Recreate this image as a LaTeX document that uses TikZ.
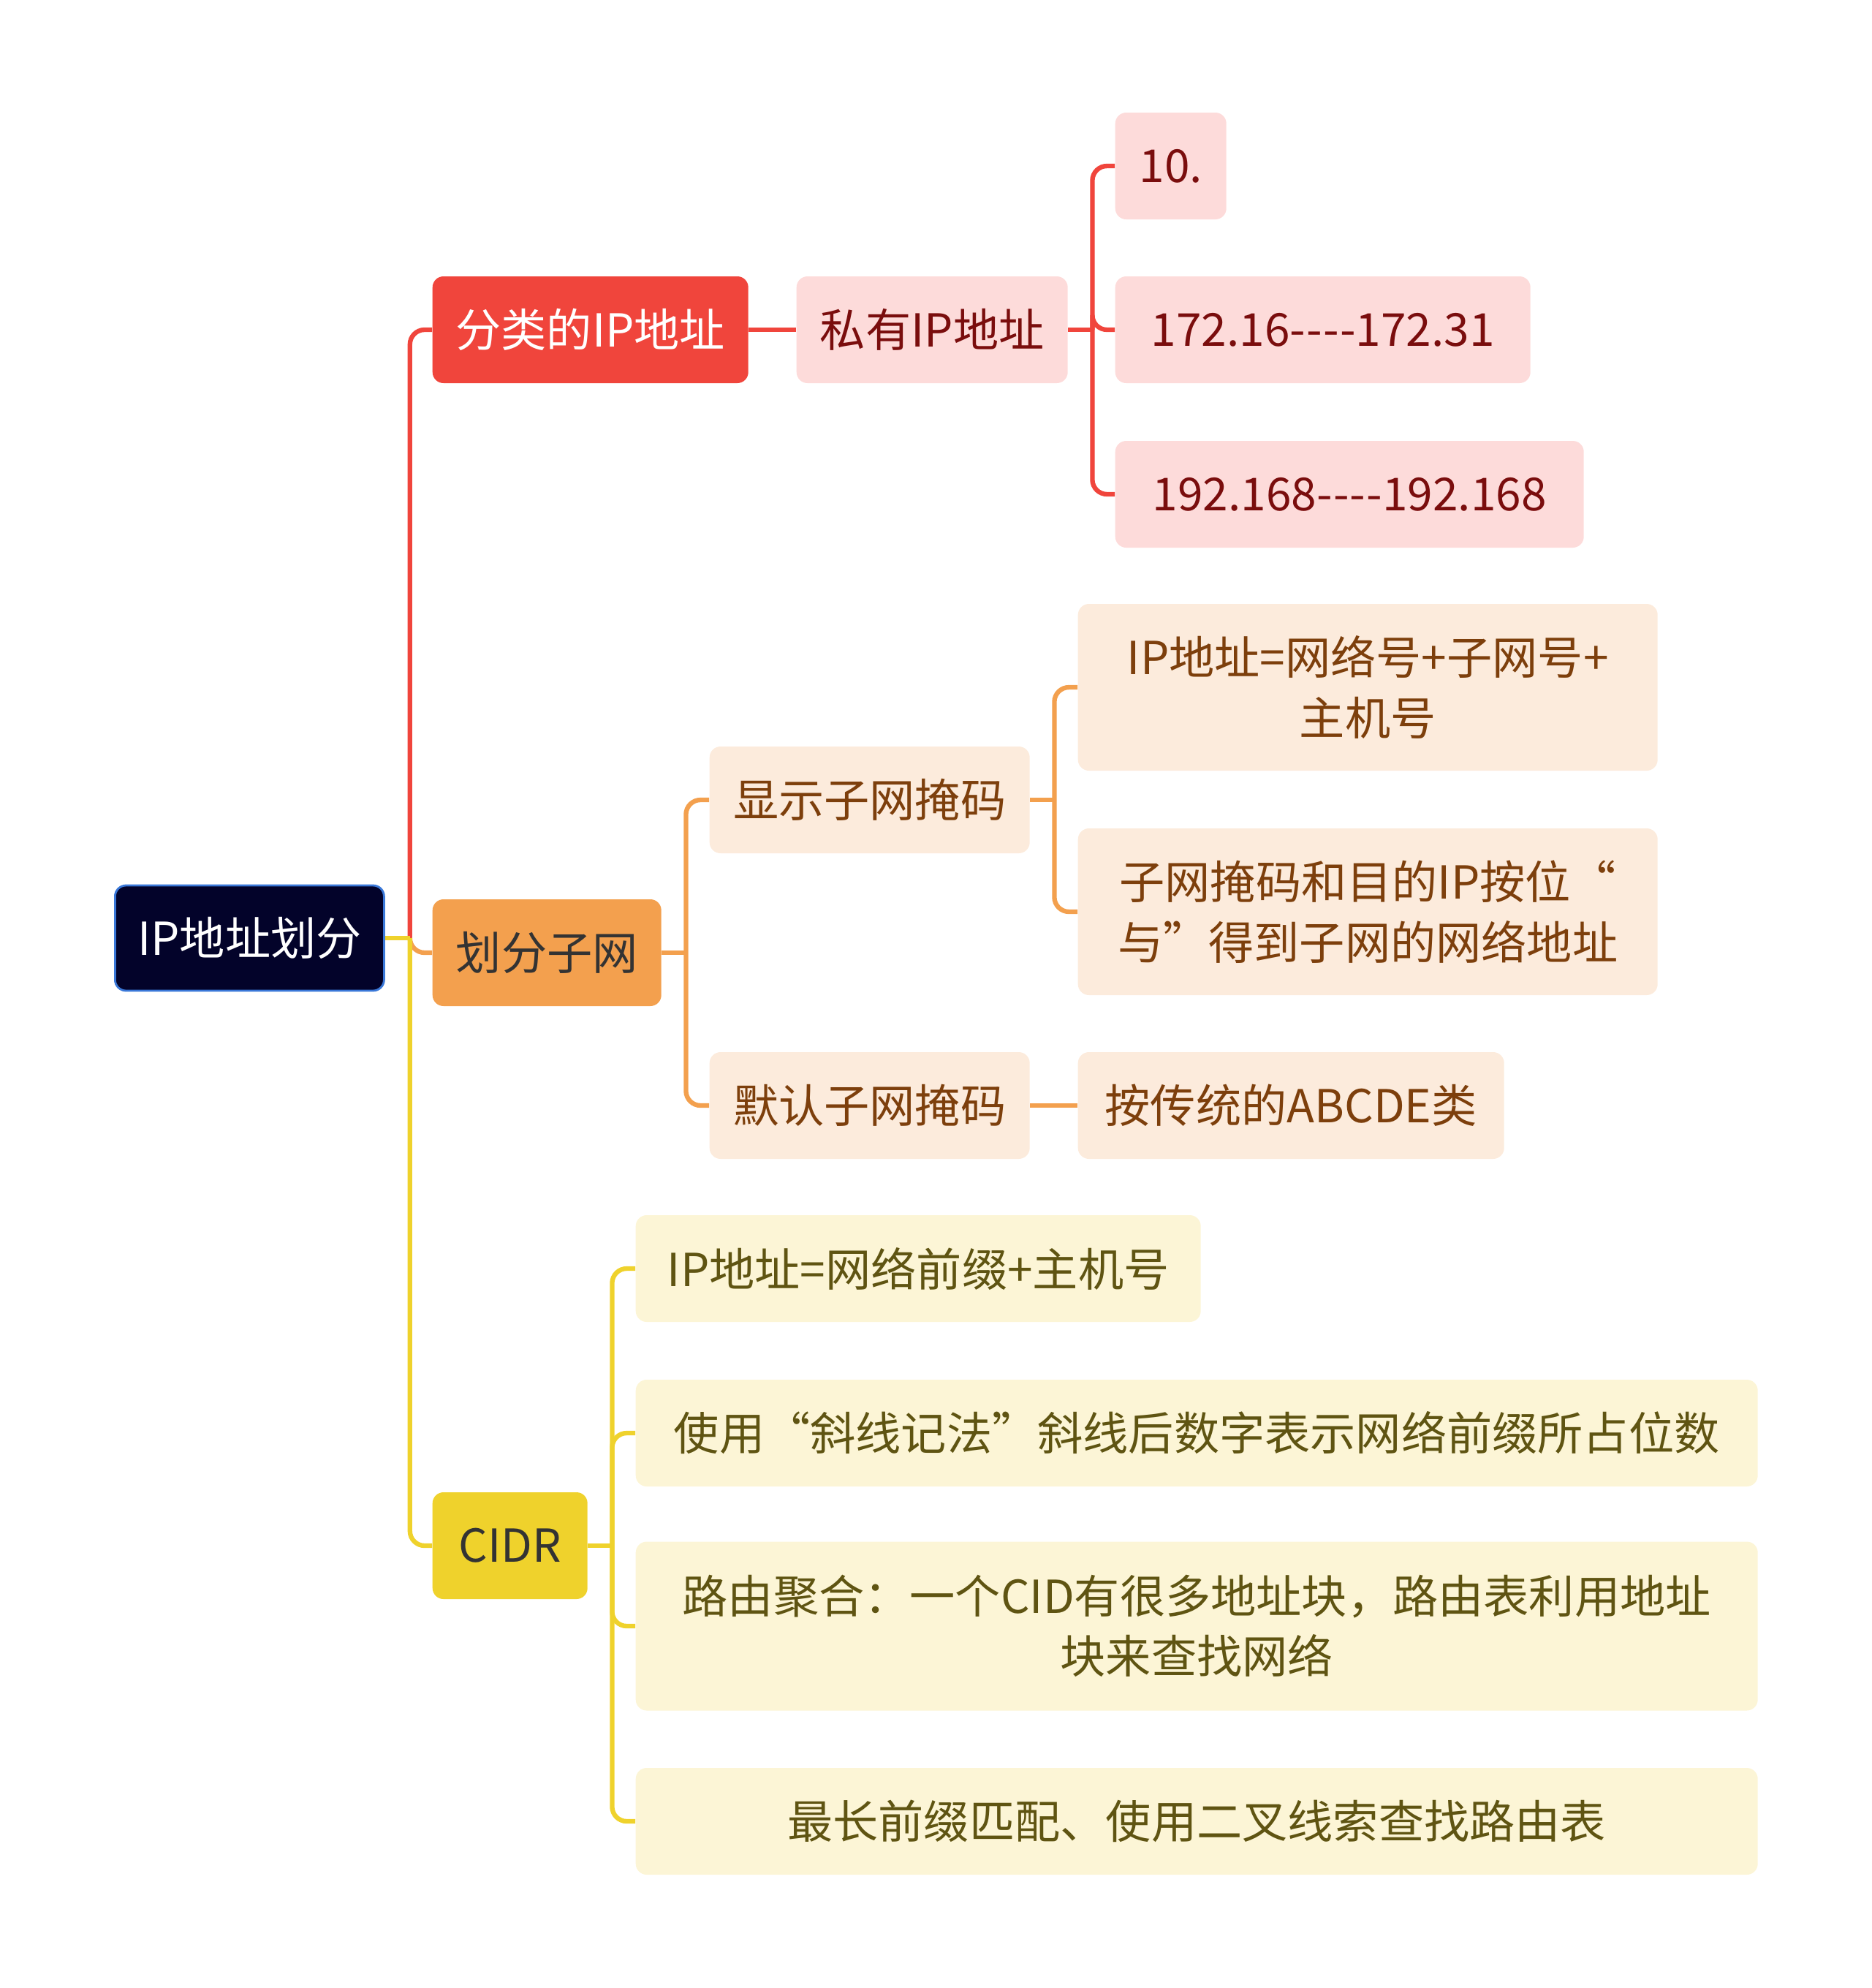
\documentclass[tikz,border=0pt]{standalone}
\usepackage{fontspec}
\setmainfont{Noto Sans CJK SC}
\usetikzlibrary{calc}
\definecolor{rootbg}{HTML}{03032A}
\definecolor{rootdr}{HTML}{3A78D8}
\definecolor{redln}{HTML}{F0453C}
\definecolor{redbg}{HTML}{FDDBDA}
\definecolor{redtx}{HTML}{7A0D0D}
\definecolor{orgln}{HTML}{F3A04E}
\definecolor{orgbg}{HTML}{FCEBDC}
\definecolor{orgtx}{HTML}{7D3F0C}
\definecolor{yelln}{HTML}{EFD22C}
\definecolor{yelbg}{HTML}{FCF5D6}
\definecolor{yeltx}{HTML}{5F5412}
\def\hy{-\kern0.02em}

\begin{document}
\begin{tikzpicture}[x=1cm,y=1cm,
    box/.style={rounded corners=0.15cm, minimum height=1.46cm, inner xsep=0.3cm, anchor=west, align=center, font=\fontsize{17.7pt}{23.5pt}\selectfont},
    redbox/.style={box, fill=redbg, text=redtx},
    orgbox/.style={box, fill=orgbg, text=orgtx},
    yelbox/.style={box, fill=yelbg, text=yeltx},
    rline/.style={draw=redln, line width=1.8pt, rounded corners=0.2cm},
    oline/.style={draw=orgln, line width=1.8pt, rounded corners=0.2cm},
    yline/.style={draw=yelln, line width=1.8pt, rounded corners=0.2cm}]
  \useasboundingbox (0,0) rectangle (25.6,-27.19);

          \node[box, fill=rootbg, draw=rootdr, line width=0.8pt, text=white, minimum width=3.68cm, minimum height=1.44cm] (ipdz) at (1.56,-12.83) {IP地址划分};

          \node[box, fill=redln, text=white, minimum width=4.32cm] (fenlei) at (5.91,-4.51) {分类的IP地址};
          \node[redbox, minimum width=3.71cm] (siyou) at (10.89,-4.51) {私有IP地址};
          \node[redbox, minimum width=1.52cm] (ten) at (15.25,-2.27) {10.};
          \node[redbox, minimum width=5.68cm] (oneseventwo) at (15.25,-4.51) {172.16\hy\hy\hy-172.31};
          \node[redbox, minimum width=6.41cm] (oneninetwo) at (15.25,-6.76) {192.168\hy\hy\hy-192.168};

          \node[box, fill=orgln, text=black!80, minimum width=3.13cm] (huafen) at (5.91,-13.03) {划分子网};
          \node[orgbox, minimum width=4.38cm] (xianshi) at (9.70,-10.94) {显示子网掩码};
          \node[orgbox, minimum width=7.93cm, minimum height=2.28cm] (zuhe) at (14.74,-9.40) {IP地址=网络号+子网号+\\主机号};
          \node[orgbox, minimum width=7.93cm, minimum height=2.28cm] (anwei) at (14.74,-12.47) {子网掩码和目的IP按位“\\与”得到子网的网络地址};
          \node[orgbox, minimum width=4.38cm] (moren) at (9.70,-15.12) {默认子网掩码};
          \node[orgbox, minimum width=5.83cm] (chuantong) at (14.74,-15.12) {按传统的ABCDE类};

          \node[box, fill=yelln, text=black!80, minimum width=2.12cm] (cidr) at (5.91,-21.14) {CIDR};
          \node[yelbox, minimum width=7.73cm] (qianzhui) at (8.69,-17.35) {IP地址=网络前缀+主机号};
          \node[yelbox, minimum width=15.35cm] (xiexian) at (8.69,-19.60) {使用“斜线记法”斜线后数字表示网络前缀所占位数};
          \node[yelbox, minimum width=15.35cm, minimum height=2.31cm] (juhe) at (8.69,-22.24) {路由聚合：一个CID有很多地址块，路由表利用地址\\块来查找网络};
          \node[yelbox, minimum width=15.35cm] (zuichang) at (8.69,-24.91) {最长前缀匹配、使用二叉线索查找路由表};

          \coordinate (j0) at ($(ipdz.east)+(0.34,0)$);
          \draw[rline] (j0) |- (fenlei.west);
          \draw[oline] (j0) |- (huafen.west);
          \draw[yline] (j0) |- (cidr.west);
          \draw[yline] (ipdz.east) -- (j0);

          \draw[rline] (fenlei.east) -- (siyou.west);
          \draw[rline] (siyou.east) -- ++(0.33,0) coordinate (j1);
          \draw[rline] (j1) |- (ten.west);
          \draw[rline] (j1) |- (oneseventwo.west);
          \draw[rline] (j1) |- (oneninetwo.west);

          \draw[oline] (huafen.east) -- ++(0.33,0) coordinate (j2);
          \draw[oline] (j2) |- (xianshi.west);
          \draw[oline] (j2) |- (moren.west);
          \draw[oline] (xianshi.east) -- ++(0.33,0) coordinate (j3);
          \draw[oline] (j3) |- (zuhe.west);
          \draw[oline] (j3) |- (anwei.west);
          \draw[oline] (moren.east) -- (chuantong.west);

          \draw[yline] (cidr.east) -- ++(0.33,0) coordinate (j4);
          \draw[yline] (j4) |- (qianzhui.west);
          \draw[yline] (j4) |- (xiexian.west);
          \draw[yline] (j4) |- (juhe.west);
          \draw[yline] (j4) |- (zuichang.west);
\end{tikzpicture}
\end{document}
